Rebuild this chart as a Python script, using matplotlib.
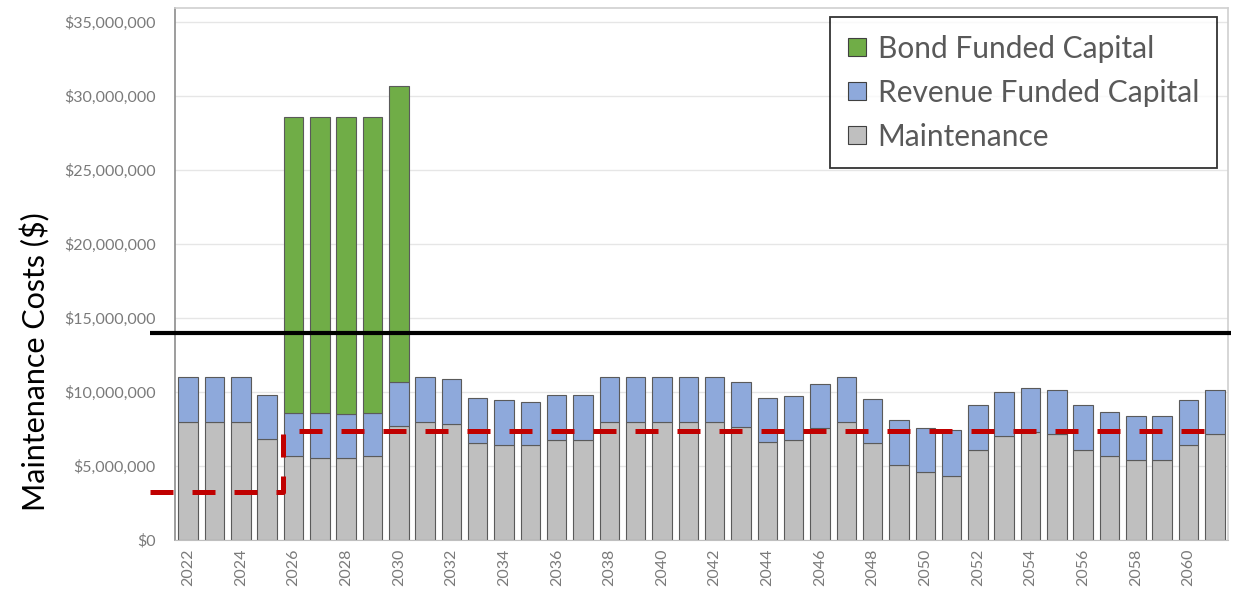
import matplotlib
matplotlib.use('Agg')
import matplotlib.pyplot as plt
from matplotlib.ticker import FuncFormatter, MultipleLocator
from matplotlib.patches import Patch

plt.rcParams['font.family'] = ['Lato', 'DejaVu Sans']

years = list(range(2022, 2062))
maintenance = [8.0, 8.0, 8.0, 6.8, 5.65, 5.55, 5.55, 5.65, 7.7, 8.0,
               7.85, 6.55, 6.4, 6.4, 6.75, 6.75, 8.0, 8.0, 8.0, 8.0,
               8.0, 7.65, 6.6, 6.75, 7.55, 8.0, 6.55, 5.1, 4.6, 4.35,
               6.1, 7.0, 7.3, 7.15, 6.1, 5.65, 5.4, 5.4, 6.4, 7.15]
revenue = [3.0, 3.0, 3.0, 3.0, 2.9, 3.0, 2.95, 2.95, 2.95, 3.0,
           3.0, 3.05, 3.05, 2.95, 3.05, 3.05, 3.0, 3.0, 3.0, 3.0,
           3.0, 3.0, 3.0, 3.0, 3.0, 3.0, 3.0, 3.0, 2.95, 3.05,
           3.0, 3.0, 3.0, 3.0, 3.0, 3.0, 3.0, 3.0, 3.05, 3.0]
bond = [0, 0, 0, 0, 20.05, 20.05, 20.1, 20.0, 20.0, 0,
        0, 0, 0, 0, 0, 0, 0, 0, 0, 0,
        0, 0, 0, 0, 0, 0, 0, 0, 0, 0,
        0, 0, 0, 0, 0, 0, 0, 0, 0, 0]
# values in $ millions
maintenance = [v * 1e6 for v in maintenance]
revenue = [v * 1e6 for v in revenue]
bond = [v * 1e6 for v in bond]

threshold = 14.0e6
target_x = [2020.56, 2025.6, 2025.6, 2061.3]
target_y = [3.27e6, 3.27e6, 7.36e6, 7.36e6]
threshold_x = [2020.56, 2061.6]

labels = ['Bond Funded Capital', 'Revenue Funded Capital', 'Maintenance']
colors = {'Maintenance': '#BFBFBF', 'Revenue Funded Capital': '#8EA9DB',
          'Bond Funded Capital': '#70AD47'}

fig = plt.figure(figsize=(12.41, 5.98), dpi=100)
ax = fig.add_axes([175 / 1241, 1 - 540 / 598, (1228 - 175) / 1241, (540 - 8) / 598])

w = 0.74
edge = '#5a5a5a'
ax.bar(years, maintenance, w, color=colors['Maintenance'], edgecolor=edge, linewidth=0.8, zorder=2)
bottom2 = maintenance
ax.bar(years, revenue, w, bottom=bottom2, color=colors['Revenue Funded Capital'], edgecolor=edge, linewidth=0.8, zorder=2)
bottom3 = [m + r for m, r in zip(maintenance, revenue)]
bidx = [i for i, b in enumerate(bond) if b > 0]
ax.bar([years[i] for i in bidx], [bond[i] for i in bidx], w, bottom=[bottom3[i] for i in bidx],
       color=colors['Bond Funded Capital'], edgecolor=edge, linewidth=0.8, zorder=2)

ax.plot(threshold_x, [threshold, threshold], color='black', linewidth=3.0, clip_on=False, zorder=4,
        solid_capstyle='butt')
ax.plot(target_x, target_y, color='#C00000', linewidth=3.6, linestyle=(0, (4.6, 3.8)), clip_on=False, zorder=5)

ax.set_xlim(2021.5, 2061.5)
ax.set_ylim(0, 35.95e6)
ax.yaxis.set_major_locator(MultipleLocator(5e6))
ax.yaxis.set_major_formatter(FuncFormatter(lambda v, p: '${:,.0f}'.format(v)))
ax.set_xticks(years[::2])
ax.set_xticklabels([str(y) for y in years[::2]], rotation=90)
ax.tick_params(axis='both', length=0, colors='#7a7a7a', labelsize=11.5)
ax.tick_params(axis='y', pad=14)
ax.tick_params(axis='x', pad=6)
ax.grid(axis='y', color='#e6e6e6', linewidth=1.0, zorder=0)
ax.set_axisbelow(True)
for s in ['top', 'right']:
    ax.spines[s].set_color('#d0d0d0')
    ax.spines[s].set_linewidth(1.2)
ax.spines['left'].set_color('#8c8c8c')
ax.spines['bottom'].set_color('#bfbfbf')
ax.spines['left'].set_linewidth(1.2)

fig.text(35 / 1241, 1 - 362 / 598, 'Maintenance Costs ($)', rotation=90, fontsize=22,
         ha='center', va='center', color='black')

handles = [Patch(facecolor=colors[l], edgecolor='#404040', linewidth=0.8, label=l) for l in labels]
leg = fig.legend(handles=handles, loc='upper right', bbox_to_anchor=(1217 / 1241, 1 - 17 / 598),
                 fontsize=21.5, frameon=True, fancybox=False, borderaxespad=0,
                 handlelength=0.6, handleheight=0.55, handletextpad=0.4, labelspacing=0.53,
                 borderpad=0.6, labelcolor='#595959')
leg.get_frame().set_edgecolor('black')
leg.get_frame().set_linewidth(1.3)

fig.savefig('out.png', dpi=100)
